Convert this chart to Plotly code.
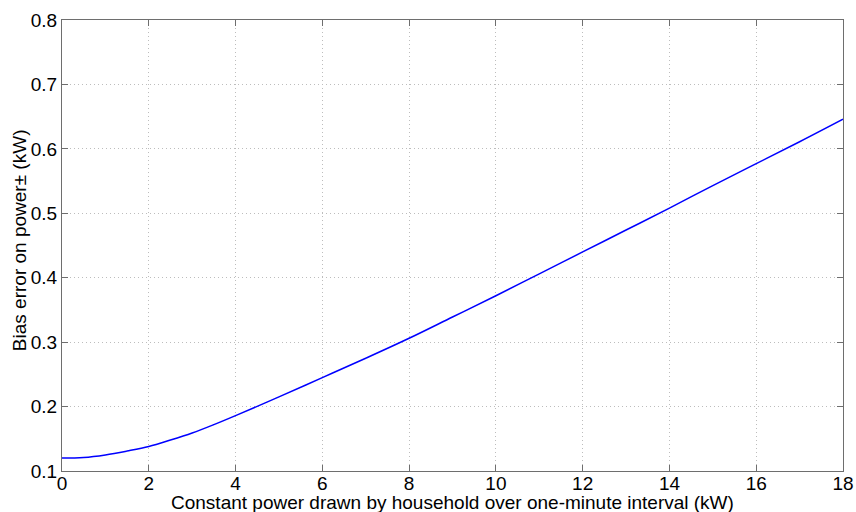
import plotly.graph_objects as go

# Constant household power (kW) and the resulting bias error (kW)
power_kw = [0, 0.5, 1, 1.5, 2, 2.5, 3, 3.5, 4, 5, 6, 7, 8, 9, 10, 11, 12, 13, 14, 15, 16, 17, 18]
bias_kw = [0.120, 0.121, 0.125, 0.131, 0.138, 0.148, 0.159, 0.172, 0.186, 0.215, 0.245,
           0.275, 0.306, 0.339, 0.372, 0.406, 0.440, 0.474, 0.508, 0.543, 0.577, 0.611, 0.646]

x_ticks = [0, 2, 4, 6, 8, 10, 12, 14, 16, 18]
y_ticks = [0.1, 0.2, 0.3, 0.4, 0.5, 0.6, 0.7, 0.8]

x_title = "Constant power drawn by household over one-minute interval (kW)"
y_title = "Bias error on power± (kW)"

font_family = "Liberation Sans, Arial, sans-serif"

fig = go.Figure(
    go.Scatter(
        x=power_kw, y=bias_kw, mode="lines",
        line=dict(color="#0000ff", width=1.5, shape="spline", smoothing=1.0),
        showlegend=False,
    )
)

axis_common = dict(
    showline=True, linecolor="#6e6e6e", linewidth=1, mirror="ticks",
    ticks="inside", ticklen=6, tickcolor="#6e6e6e", tickwidth=1,
    showgrid=True, gridcolor="#bdbdbd", griddash="1px,3px", gridwidth=1,
    zeroline=False, automargin=False,
    tickfont=dict(family=font_family, size=19, color="#000000"),
)

fig.update_layout(
    width=856, height=512,
    margin=dict(l=62, r=13, t=20, b=41),
    paper_bgcolor="white", plot_bgcolor="white",
    font=dict(family=font_family, color="#000000"),
    xaxis=dict(range=[0, 18], tickvals=x_ticks, ticktext=[str(v) for v in x_ticks],
               ticklabelstandoff=-5, **axis_common),
    yaxis=dict(range=[0.1, 0.8], tickvals=y_ticks, ticktext=[f"{v:.1f}" for v in y_ticks],
               **axis_common),
    annotations=[
        dict(text=x_title, xref="paper", yref="paper", x=0.5, y=-0.0445,
             xanchor="center", yanchor="top", showarrow=False, borderpad=0,
             font=dict(family=font_family, size=19, color="#000000")),
        dict(text=y_title, xref="paper", yref="paper", x=-0.055, y=0.512,
             xanchor="center", yanchor="middle", textangle=-90, showarrow=False,
             font=dict(family=font_family, size=19, color="#000000")),
    ],
)

fig.write_html("out.html")
